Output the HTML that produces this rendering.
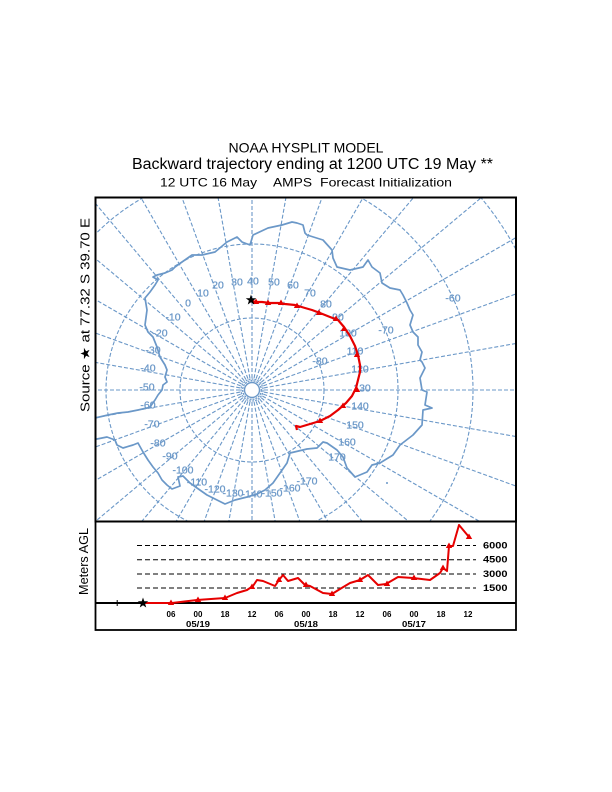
<!DOCTYPE html>
<html><head><meta charset="utf-8"><style>
html,body{margin:0;padding:0;background:#fff;width:612px;height:792px;overflow:hidden;}
svg{display:block;overflow:hidden;}
text{font-family:"Liberation Sans",Arial,sans-serif;}
</style></head><body>
<svg width="612" height="792" viewBox="0 0 612 792" xmlns="http://www.w3.org/2000/svg">
<rect width="612" height="792" fill="#fff"/>
<!-- Titles -->
<text x="306" y="152.5" font-size="14" text-anchor="middle" textLength="155" lengthAdjust="spacingAndGlyphs">NOAA HYSPLIT MODEL</text>
<text x="312.5" y="169" font-size="15.5" text-anchor="middle" textLength="361" lengthAdjust="spacingAndGlyphs">Backward trajectory ending at 1200 UTC 19 May **</text>
<text x="160" y="186.7" font-size="11.8" textLength="97" lengthAdjust="spacingAndGlyphs">12 UTC 16 May</text>
<text x="273" y="186.7" font-size="11.8" textLength="39" lengthAdjust="spacingAndGlyphs">AMPS</text>
<text x="320" y="186.7" font-size="11.8" textLength="132" lengthAdjust="spacingAndGlyphs">Forecast Initialization</text>

<!-- Left labels -->
<text transform="translate(89.5,315) rotate(-90)" font-size="12.5" text-anchor="middle" textLength="194" lengthAdjust="spacingAndGlyphs">Source ★ at  77.32 S  39.70 E</text>
<text transform="translate(88,561.5) rotate(-90)" font-size="13" text-anchor="middle" textLength="67" lengthAdjust="spacingAndGlyphs">Meters AGL</text>

<defs>
<clipPath id="mc"><rect x="96" y="198" width="419.5" height="323"/></clipPath>
</defs>

<g clip-path="url(#mc)" stroke="#6b98c8" fill="none">
  <!-- latitude circles -->
  <g stroke-width="1.1" stroke-dasharray="4 2">
    <circle cx="252" cy="390" r="72"/>
    <circle cx="252" cy="390" r="146"/>
    <circle cx="252" cy="390" r="221"/>
    <circle cx="252" cy="390" r="299"/>
  </g>
  <!-- pole rings -->
  <circle cx="252" cy="390" r="7.5" stroke-width="1.4"/>
  <circle cx="252" cy="390" r="9.3" stroke-width="1.3" stroke-dasharray="2 1"/>
  <circle cx="252" cy="390" r="11" stroke-width="1.2" stroke-dasharray="2 1"/>
  <!-- meridians -->
  <g stroke-width="1.1" stroke-dasharray="4 2">
    <line x1="252" y1="378" x2="252" y2="0" transform="rotate(0 252 390)"/>
    <line x1="252" y1="378" x2="252" y2="0" transform="rotate(10 252 390)"/>
    <line x1="252" y1="378" x2="252" y2="0" transform="rotate(20 252 390)"/>
    <line x1="252" y1="378" x2="252" y2="0" transform="rotate(30 252 390)"/>
    <line x1="252" y1="378" x2="252" y2="0" transform="rotate(40 252 390)"/>
    <line x1="252" y1="378" x2="252" y2="0" transform="rotate(50 252 390)"/>
    <line x1="252" y1="378" x2="252" y2="0" transform="rotate(60 252 390)"/>
    <line x1="252" y1="378" x2="252" y2="0" transform="rotate(70 252 390)"/>
    <line x1="252" y1="378" x2="252" y2="0" transform="rotate(80 252 390)"/>
    <line x1="252" y1="378" x2="252" y2="0" transform="rotate(90 252 390)"/>
    <line x1="252" y1="378" x2="252" y2="0" transform="rotate(100 252 390)"/>
    <line x1="252" y1="378" x2="252" y2="0" transform="rotate(110 252 390)"/>
    <line x1="252" y1="378" x2="252" y2="0" transform="rotate(120 252 390)"/>
    <line x1="252" y1="378" x2="252" y2="0" transform="rotate(130 252 390)"/>
    <line x1="252" y1="378" x2="252" y2="0" transform="rotate(140 252 390)"/>
    <line x1="252" y1="378" x2="252" y2="0" transform="rotate(150 252 390)"/>
    <line x1="252" y1="378" x2="252" y2="0" transform="rotate(160 252 390)"/>
    <line x1="252" y1="378" x2="252" y2="0" transform="rotate(170 252 390)"/>
    <line x1="252" y1="378" x2="252" y2="0" transform="rotate(180 252 390)"/>
    <line x1="252" y1="378" x2="252" y2="0" transform="rotate(190 252 390)"/>
    <line x1="252" y1="378" x2="252" y2="0" transform="rotate(200 252 390)"/>
    <line x1="252" y1="378" x2="252" y2="0" transform="rotate(210 252 390)"/>
    <line x1="252" y1="378" x2="252" y2="0" transform="rotate(220 252 390)"/>
    <line x1="252" y1="378" x2="252" y2="0" transform="rotate(230 252 390)"/>
    <line x1="252" y1="378" x2="252" y2="0" transform="rotate(240 252 390)"/>
    <line x1="252" y1="378" x2="252" y2="0" transform="rotate(250 252 390)"/>
    <line x1="252" y1="378" x2="252" y2="0" transform="rotate(260 252 390)"/>
    <line x1="252" y1="378" x2="252" y2="0" transform="rotate(270 252 390)"/>
    <line x1="252" y1="378" x2="252" y2="0" transform="rotate(280 252 390)"/>
    <line x1="252" y1="378" x2="252" y2="0" transform="rotate(290 252 390)"/>
    <line x1="252" y1="378" x2="252" y2="0" transform="rotate(300 252 390)"/>
    <line x1="252" y1="378" x2="252" y2="0" transform="rotate(310 252 390)"/>
    <line x1="252" y1="378" x2="252" y2="0" transform="rotate(320 252 390)"/>
    <line x1="252" y1="378" x2="252" y2="0" transform="rotate(330 252 390)"/>
    <line x1="252" y1="378" x2="252" y2="0" transform="rotate(340 252 390)"/>
    <line x1="252" y1="378" x2="252" y2="0" transform="rotate(350 252 390)"/>
  </g>
  <!-- coastline -->
  <path stroke-width="1.7" stroke-linejoin="round" d="M95,418 L108,415 118,413 128,412 138,410 147,408 150,407 155,400 158,395 162,390 163,385 167,382 165,377 167,370 165,365 160,357 157,347 153,337 148,332 145,325 147,310 145,298 150,292 155,285 158,280 153,277 157,275 165,273 172,270 175,267 182,262 192,255 202,255 215,252 227,242 237,237 242,242 250,245 253,235 268,228 282,225 292,222 297,223 303,225 305,233 307,235 323,240 332,250 333,258 337,267 350,270 363,267 368,260 372,267 380,273 382,283 390,288 400,290 403,295 407,303 410,310 413,315 410,325 413,332 418,337 418,345 422,352 420,360 422,362 425,368 420,378 422,390 427,392 425,405 432,408 423,410 422,425 413,435 400,445 393,455 380,463 372,465 367,472 355,477 347,468 343,457 337,450 327,443 323,442 317,448 307,449 290,453 287,463 280,473 273,483 265,490 257,494 247,497 235,500 225,504 215,499 207,495 197,488 190,483 183,476 178,477 180,486 172,489 167,485 162,480 158,473 153,467 148,460 143,452 138,443 133,445 123,448 117,445 115,440 107,437 97,439 95,439"/>
  <circle cx="387" cy="483" r="1" fill="#6b98c8" stroke="none"/>
</g>

<!-- map labels -->
<g fill="#6b98c8" font-size="10.5" text-anchor="middle" stroke="#6b98c8" stroke-width="0.25">
  <text x="203" y="296.5">10</text>
  <text x="218" y="288.5">20</text>
  <text x="237" y="285.5">30</text>
  <text x="253" y="284.5">40</text>
  <text x="274" y="285.5">50</text>
  <text x="293" y="288.5">60</text>
  <text x="310" y="296.5">70</text>
  <text x="326" y="307.5">80</text>
  <text x="338" y="320.5">90</text>
  <text x="348" y="336.5">100</text>
  <text x="355" y="354.5">110</text>
  <text x="360" y="372.5">120</text>
  <text x="362" y="391.5">130</text>
  <text x="360" y="409.5">140</text>
  <text x="355" y="428.5">150</text>
  <text x="347" y="445.5">160</text>
  <text x="337" y="460.5">170</text>
  <text x="307" y="484.5">-170</text>
  <text x="290" y="491.5">-160</text>
  <text x="272" y="496.5">-150</text>
  <text x="252" y="497.5">-140</text>
  <text x="233" y="496.5">-130</text>
  <text x="215" y="492.5">-120</text>
  <text x="197" y="485.5">-110</text>
  <text x="183" y="473.5">-100</text>
  <text x="170" y="459.5">-90</text>
  <text x="158" y="446.5">-80</text>
  <text x="152" y="427.5">-70</text>
  <text x="148" y="408.5">-60</text>
  <text x="147" y="390.5">-50</text>
  <text x="148" y="371.5">-40</text>
  <text x="153" y="353.5">-30</text>
  <text x="160" y="336.5">-20</text>
  <text x="173" y="320.5">-10</text>
  <text x="188" y="306.5">0</text>
  <text x="320" y="364.5">-80</text>
  <text x="386" y="333.5">-70</text>
  <text x="453" y="301.5">-60</text>
</g>

<!-- map trajectory -->
<path fill="none" stroke="#e60000" stroke-width="2.2" stroke-linejoin="round" d="M251,300 L255,302 262,302 270,303 278,303 285,304 295,305 305,308 312,310 320,313 330,317 338,320 344,327 350,336 355,346 358,355 360,365 360,372 358,380 356,388 352,396 346,403 338,410 330,416 320,421 310,424 300,427 296,426 297,430"/>
<g fill="#e60000">
  <polygon transform="translate(256,302)" points="0,-3.5 3.2,2 -3.2,2"/>
  <polygon transform="translate(268,303)" points="0,-3.5 3.2,2 -3.2,2"/>
  <polygon transform="translate(281,303)" points="0,-3.5 3.2,2 -3.2,2"/>
  <polygon transform="translate(297,306)" points="0,-3.5 3.2,2 -3.2,2"/>
  <polygon transform="translate(319,313)" points="0,-3.5 3.2,2 -3.2,2"/>
  <polygon transform="translate(336,319)" points="0,-3.5 3.2,2 -3.2,2"/>
  <polygon transform="translate(344,329)" points="0,-3.5 3.2,2 -3.2,2"/>
  <polygon transform="translate(357,355)" points="0,-3.5 3.2,2 -3.2,2"/>
  <polygon transform="translate(357,390)" points="0,-3.5 3.2,2 -3.2,2"/>
  <polygon transform="translate(343,406)" points="0,-3.5 3.2,2 -3.2,2"/>
  <polygon transform="translate(320,421)" points="0,-3.5 3.2,2 -3.2,2"/>
</g>
<polygon transform="translate(251,300)" fill="#000" points="0,-5.5 1.29,-1.78 5.23,-1.7 2.09,0.68 3.23,4.45 0,2.2 -3.23,4.45 -2.09,0.68 -5.23,-1.7 -1.29,-1.78"/>

<!-- frames -->
<rect x="95.5" y="197.5" width="420.5" height="324" fill="none" stroke="#000" stroke-width="2"/>
<rect x="95.5" y="521.5" width="420.5" height="108.5" fill="none" stroke="#000" stroke-width="1.8"/>

<!-- bottom panel -->
<g stroke="#000" stroke-width="1" stroke-dasharray="5 3">
  <line x1="137" y1="545.5" x2="476" y2="545.5"/>
  <line x1="137" y1="559.7" x2="476" y2="559.7"/>
  <line x1="137" y1="574" x2="476" y2="574"/>
  <line x1="137" y1="588" x2="476" y2="588"/>
</g>
<g font-size="9" font-weight="bold">
  <text x="483" y="548.5" textLength="24.5" lengthAdjust="spacingAndGlyphs">6000</text>
  <text x="483" y="562.7" textLength="24.5" lengthAdjust="spacingAndGlyphs">4500</text>
  <text x="483" y="577" textLength="24.5" lengthAdjust="spacingAndGlyphs">3000</text>
  <text x="483" y="591" textLength="24.5" lengthAdjust="spacingAndGlyphs">1500</text>
</g>
<line x1="95" y1="603" x2="516" y2="603" stroke="#000" stroke-width="2"/>
<path d="M114.5,603 H120 M117.2,600 V606" stroke="#000" stroke-width="1"/>

<path fill="none" stroke="#e60000" stroke-width="2" stroke-linejoin="round" d="M143,603 L172,603 197,600 225,598 237,593 247,590 253,586 257,580 263,581 275,586 279,580 283,575 288,581 298,578 305,585 310,586 323,593 332,594 340,589 350,583 360,580 368,575 378,585 386,584 398,577 413,578 430,580 440,573 443,568 447,571 449,546 453,546 459,525 469,537"/>
<g fill="#e60000">
  <polygon transform="translate(171,603)" points="0,-3.5 3.2,2 -3.2,2"/>
  <polygon transform="translate(198,600)" points="0,-3.5 3.2,2 -3.2,2"/>
  <polygon transform="translate(225,598)" points="0,-3.5 3.2,2 -3.2,2"/>
  <polygon transform="translate(252,587)" points="0,-3.5 3.2,2 -3.2,2"/>
  <polygon transform="translate(279,580)" points="0,-3.5 3.2,2 -3.2,2"/>
  <polygon transform="translate(306,585)" points="0,-3.5 3.2,2 -3.2,2"/>
  <polygon transform="translate(332,594)" points="0,-3.5 3.2,2 -3.2,2"/>
  <polygon transform="translate(360,580)" points="0,-3.5 3.2,2 -3.2,2"/>
  <polygon transform="translate(387,584)" points="0,-3.5 3.2,2 -3.2,2"/>
  <polygon transform="translate(414,578)" points="0,-3.5 3.2,2 -3.2,2"/>
  <polygon transform="translate(443,568)" points="0,-3.5 3.2,2 -3.2,2"/>
  <polygon transform="translate(449,546)" points="0,-3.5 3.2,2 -3.2,2"/>
  <polygon transform="translate(469,537)" points="0,-3.5 3.2,2 -3.2,2"/>
</g>
<polygon transform="translate(143,603)" fill="#000" points="0,-5.5 1.29,-1.78 5.23,-1.7 2.09,0.68 3.23,4.45 0,2.2 -3.23,4.45 -2.09,0.68 -5.23,-1.7 -1.29,-1.78"/>

<g font-size="8" font-weight="bold" text-anchor="middle">
  <text x="171" y="617">06</text>
  <text x="198" y="617">00</text>
  <text x="225" y="617">18</text>
  <text x="252" y="617">12</text>
  <text x="279" y="617">06</text>
  <text x="306" y="617">00</text>
  <text x="333" y="617">18</text>
  <text x="360" y="617">12</text>
  <text x="387" y="617">06</text>
  <text x="414" y="617">00</text>
  <text x="441" y="617">18</text>
  <text x="468" y="617">12</text>
  <text x="198" y="627" textLength="24" lengthAdjust="spacingAndGlyphs">05/19</text>
  <text x="306" y="627" textLength="24" lengthAdjust="spacingAndGlyphs">05/18</text>
  <text x="414" y="627" textLength="24" lengthAdjust="spacingAndGlyphs">05/17</text>
</g>
</svg>
</body></html>
